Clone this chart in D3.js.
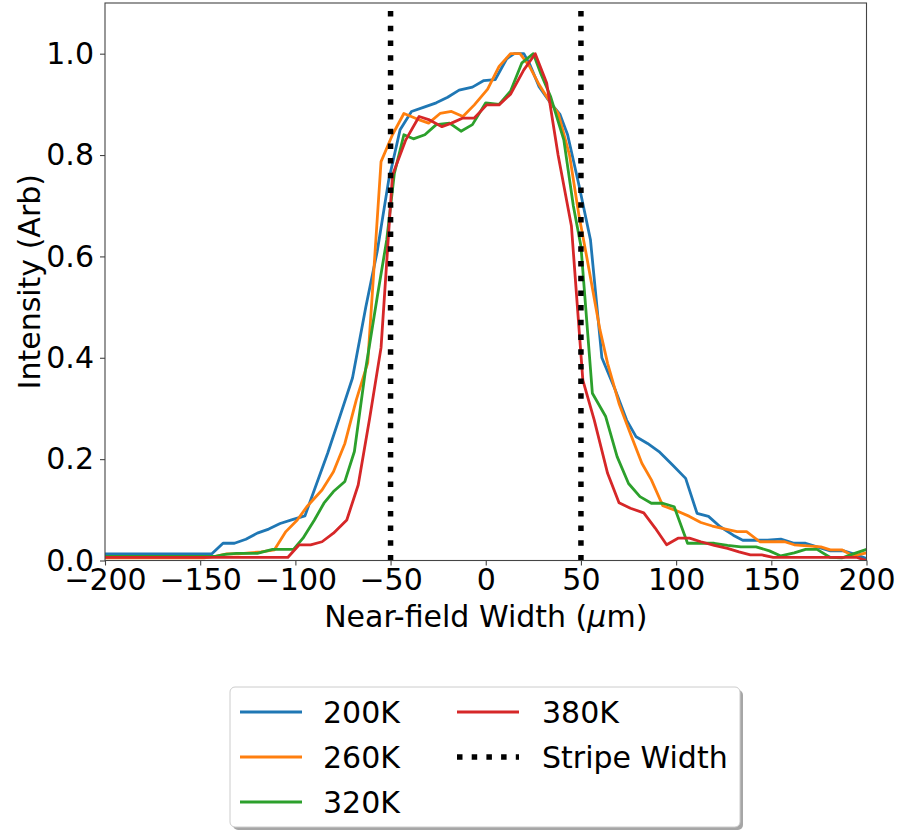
<!DOCTYPE html>
<html><head><meta charset="utf-8">
<script src="https://cdn.jsdelivr.net/npm/d3@7"></script>
<style>
body{margin:0;background:#fff;}
text{font-family:"DejaVu Sans",sans-serif;fill:#000;}
</style></head>
<body><svg id="c" width="898" height="830"></svg>
<script>
// ---- data ----
const seriesNames = ["200K","260K","320K","380K"];
const seriesColors = ["#1f77b4","#ff7f0e","#2ca02c","#d62728"];
const x200 = [-200,-144,-138,-132,-126,-120,-114,-108,-102,-95,-89,-83,-77,-70,-63,-57,-51,-45,-39,-32,-26,-20,-14,-7,-1,5,11,15,20,23,28,34,39,43,49,55,61,68,74,79,85,91,98,105,111,117,123,130,135,142,148,155,162,168,174,181,188,194,200];
const y200 = [0.013,0.013,0.034,0.034,0.042,0.054,0.062,0.073,0.080,0.088,0.15,0.212,0.28,0.36,0.50,0.61,0.75,0.85,0.886,0.895,0.903,0.914,0.928,0.934,0.947,0.949,0.99,1.0,1.0,0.98,0.935,0.903,0.88,0.84,0.74,0.633,0.40,0.337,0.277,0.244,0.231,0.215,0.189,0.162,0.093,0.087,0.067,0.05,0.04,0.04,0.04,0.042,0.034,0.034,0.027,0.019,0.019,0.012,0.004];
const x260 = [-200,-148,-142,-136,-130,-124,-118,-111,-105,-99,-94,-86,-80,-74,-68,-62,-55,-49,-43,-36,-30,-24,-18,-12,-6,1,7,13,18,23,28,34,38,44,49,53,60,64,70,76,82,87,93,99,107,113,119,126,132,137,144,151,157,162,169,176,181,187,193,200];
const y260 = [0.005,0.005,0.008,0.013,0.013,0.015,0.017,0.021,0.057,0.08,0.106,0.139,0.175,0.231,0.317,0.39,0.787,0.84,0.882,0.871,0.863,0.882,0.886,0.876,0.899,0.93,0.975,1.0,1.0,0.975,0.939,0.903,0.883,0.80,0.68,0.60,0.455,0.389,0.31,0.25,0.192,0.159,0.108,0.10,0.087,0.075,0.068,0.062,0.057,0.057,0.037,0.037,0.037,0.031,0.029,0.027,0.021,0.021,0.009,0.015];
const x320 = [-200,-142,-137,-131,-120,-112,-101,-96,-90,-85,-80,-74,-69,-63,-57,-52,-48,-43,-38,-32,-26,-19,-13,-7,0,7,13,19,25,29,34,41,46,50,56,63,69,75,81,87,93,99,106,113,120,127,134,142,149,155,162,168,174,181,187,193,200];
const y320 = [0.008,0.008,0.012,0.014,0.014,0.022,0.022,0.044,0.08,0.113,0.136,0.156,0.215,0.38,0.52,0.633,0.764,0.84,0.832,0.84,0.86,0.863,0.847,0.86,0.903,0.90,0.926,0.982,1.0,0.96,0.916,0.83,0.70,0.62,0.33,0.284,0.205,0.152,0.126,0.113,0.113,0.106,0.034,0.034,0.034,0.03,0.027,0.027,0.019,0.009,0.015,0.022,0.022,0.006,0.005,0.013,0.022];
const x380 = [-200,-104,-98,-92,-86,-80,-73,-67,-61,-55,-49,-42,-35,-30,-23,-18,-12,-6,0.5,7,13,20,26,32,38,45,51,57,64,70,76,83,89,95,101,107,113,120,127,133,139,145,151,195,200];
const y380 = [0.006,0.006,0.031,0.031,0.037,0.054,0.08,0.149,0.28,0.42,0.76,0.83,0.876,0.87,0.856,0.863,0.873,0.873,0.899,0.899,0.92,0.968,1.0,0.942,0.80,0.66,0.356,0.277,0.172,0.114,0.103,0.094,0.064,0.031,0.044,0.044,0.037,0.03,0.024,0.017,0.011,0.011,0.006,0.006,0.0];
const stripeEdges = [-50, 50];
const stripeLabel = "Stripe Width";
const xTicks = [-200,-150,-100,-50,0,50,100,150,200];
const yTicks = [0.0,0.2,0.4,0.6,0.8,1.0];
const xDomain = [-200,200];
const yDomain = [0,1.1];
const xLabel = "Near-field Width (";
const yLabel = "Intensity (Arb)";

// ---- drawing ----
const svg = d3.select("#c");
const L=105, R=866.5, T=3, B=560.5;
const x = d3.scaleLinear().domain(xDomain).range([L,R]);
const y = d3.scaleLinear().domain(yDomain).range([B,T]);
const FS = 30;

svg.append("defs").append("clipPath").attr("id","clip")
  .append("rect").attr("x",L).attr("y",T).attr("width",R-L).attr("height",B-T);

const xs=[x200,x260,x320,x380], ys=[y200,y260,y320,y380];
const line = d3.line().x(d=>x(d[0])).y(d=>y(d[1]));
const g = svg.append("g").attr("clip-path","url(#clip)");
xs.forEach((xa,i)=>{
  const pts = xa.map((v,j)=>[v, ys[i][j]]);
  g.append("path").attr("d",line(pts)).attr("fill","none")
   .attr("stroke",seriesColors[i]).attr("stroke-width",2.8)
   .attr("stroke-linejoin","round").attr("stroke-linecap","square");
});
stripeEdges.forEach(v=>{
  g.append("line").attr("x1",x(v)).attr("x2",x(v)).attr("y1",y(yDomain[0])).attr("y2",y(yDomain[1]))
   .attr("stroke","#000").attr("stroke-width",5.5).attr("stroke-dasharray","5.5,9.2");
});

// spines
svg.append("rect").attr("x",L).attr("y",T).attr("width",R-L).attr("height",B-T)
  .attr("fill","none").attr("stroke","#444").attr("stroke-width",1.1);

// axes
const fmtX = d => d<0 ? "\u2212"+Math.abs(d) : String(d);
const xAxis = svg.append("g").attr("transform",`translate(0,${B})`)
  .call(d3.axisBottom(x).tickValues(xTicks).tickFormat(fmtX).tickSize(5).tickPadding(5));
const yAxis = svg.append("g").attr("transform",`translate(${L},0)`)
  .call(d3.axisLeft(y).tickValues(yTicks).tickFormat(d3.format(".1f")).tickSize(5).tickPadding(6));
[xAxis,yAxis].forEach(a=>{
  a.select(".domain").remove();
  a.selectAll(".tick line").attr("stroke","#444").attr("stroke-width",1.1);
  a.selectAll(".tick text").attr("font-family","DejaVu Sans").attr("font-size",FS).attr("fill","#000");
});
xAxis.selectAll(".tick text").attr("dy",null).attr("y",null).attr("transform","translate(0,29)");

// axis labels
const xl = svg.append("text").attr("x",(L+R)/2).attr("y",627).attr("text-anchor","middle").attr("font-size",FS);
xl.append("tspan").text(xLabel);
xl.append("tspan").attr("font-style","italic").text("\u03bc");
xl.append("tspan").text("m)");
svg.append("text").attr("transform",`translate(40,${(T+B)/2}) rotate(-90)`)
  .attr("text-anchor","middle").attr("font-size",FS).text(yLabel);

// legend
const lg = svg.append("g");
lg.append("rect").attr("x",233).attr("y",690).attr("width",510).attr("height",140).attr("rx",5)
  .attr("fill","#000").attr("opacity",0.35);
lg.append("rect").attr("x",230).attr("y",687).attr("width",510).attr("height",140).attr("rx",5)
  .attr("fill","#fff").attr("stroke","#cccccc").attr("stroke-width",1);
const entries = seriesNames.map((n,i)=>({name:n,color:seriesColors[i],dash:null}))
  .concat([{name:stripeLabel,color:"#000",dash:"5.5,9.2"}]);
const rowY=[712,757,802];
entries.forEach((e,i)=>{
  const col = i<3?0:1, row = i<3?i:i-3;
  const lx = col===0?240:457, tx = col===0?323:542;
  const yy = rowY[row];
  const ln = lg.append("line").attr("x1",lx).attr("x2",lx+62).attr("y1",yy).attr("y2",yy)
    .attr("stroke",e.color).attr("stroke-width",e.dash?5.5:2.8);
  if(e.dash) ln.attr("stroke-dasharray",e.dash);
  lg.append("text").attr("x",tx).attr("y",yy+11).attr("font-size",FS).text(e.name);
});
</script></body></html>
